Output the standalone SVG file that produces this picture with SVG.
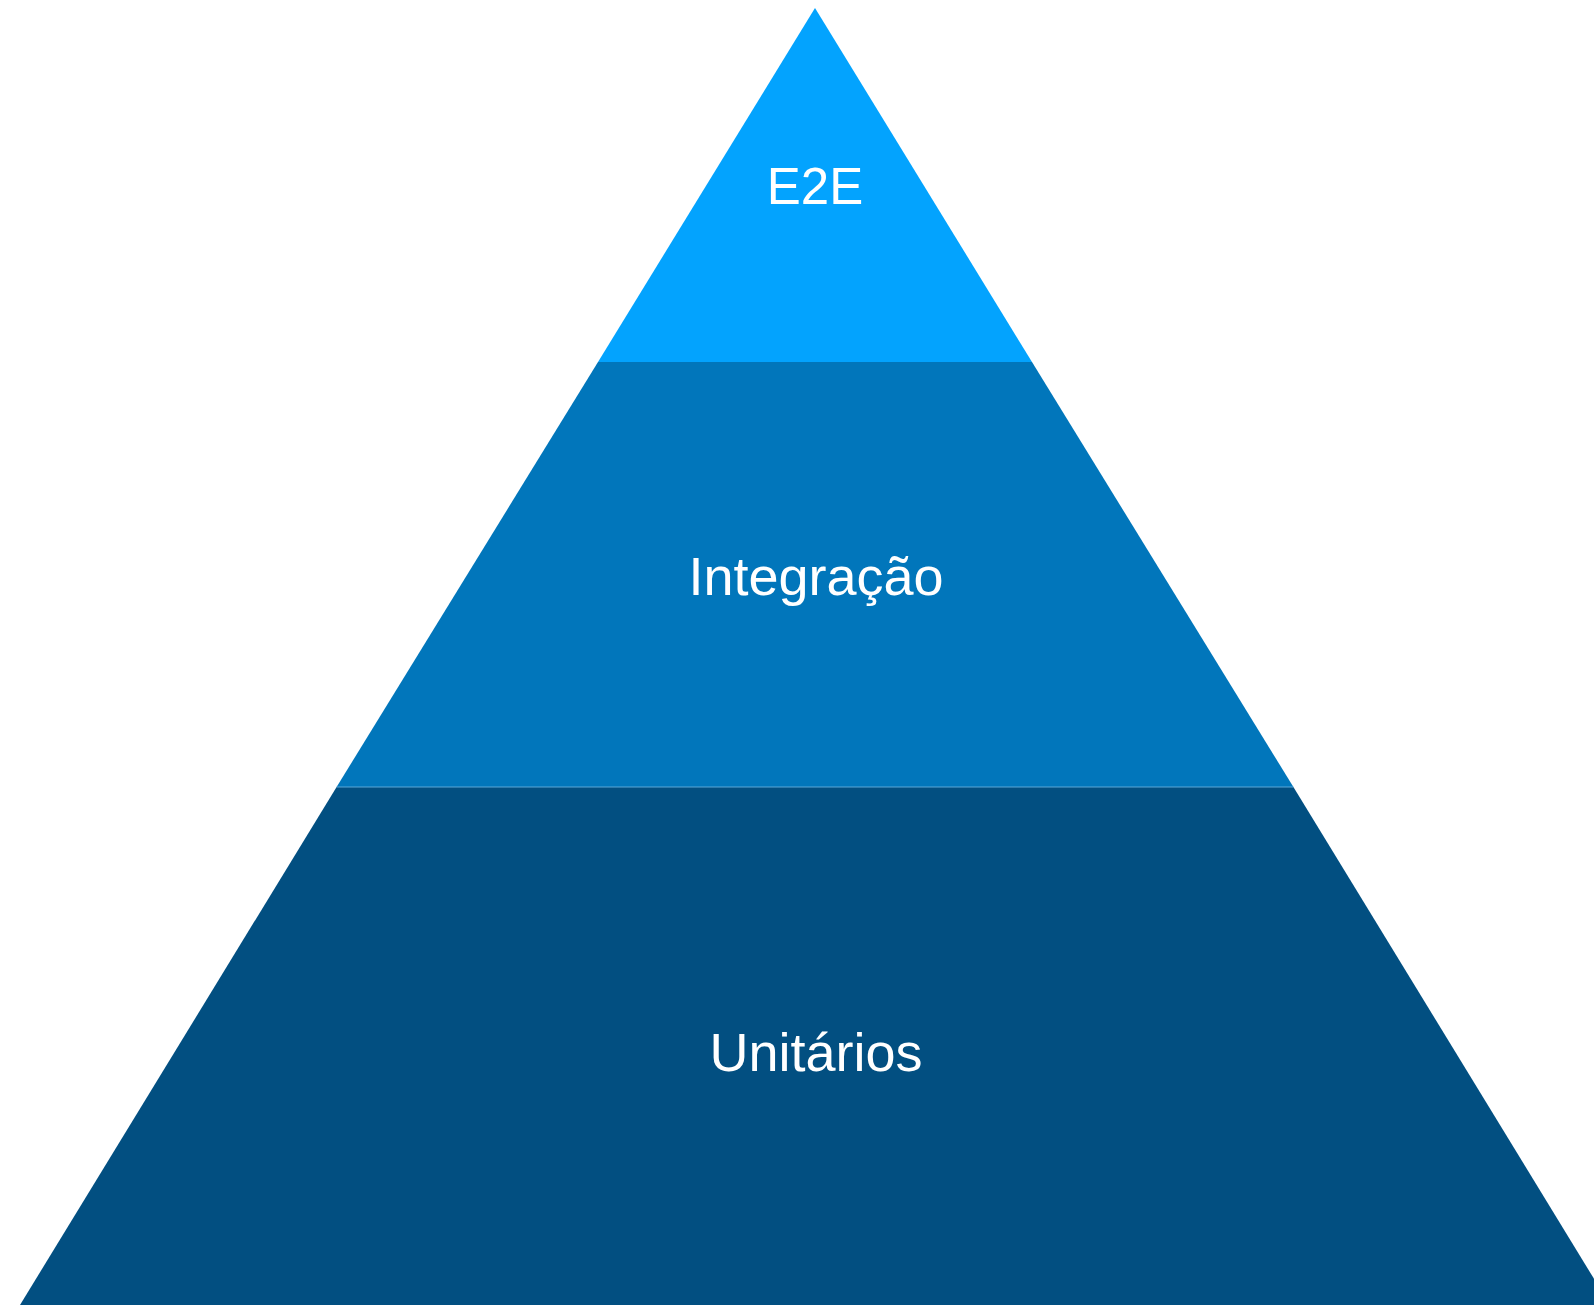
<svg xmlns="http://www.w3.org/2000/svg" width="1594" height="1305" viewBox="0 0 1594 1305">
<style>
.lbl{font-family:"Liberation Sans",Arial,Helvetica,sans-serif;fill:#ffffff;text-anchor:middle}
</style>
<rect width="1594" height="1305" fill="#ffffff"/>
<g id="tier-unitarios">
<polygon points="336.6,787 1293.4,787 1610,1305 20,1305" fill="#024F81"/>
<text class="lbl" x="816" y="1071" font-size="54">Unitários</text>
</g>
<g id="tier-integracao">
<polygon points="598,362 1032,362 1293.4,787 336.6,787" fill="#0176BB"/>
<line x1="336.6" y1="787" x2="1293.4" y2="787" stroke="#5AA8D8" stroke-width="1"/>
<text class="lbl" x="816" y="595" font-size="54">Integração</text>
</g>
<g id="tier-e2e">
<polygon points="815,8 1032,362 598,362" fill="#03A3FE"/>
<text class="lbl" x="815" y="204" font-size="51">E2E</text>
</g>
</svg>
